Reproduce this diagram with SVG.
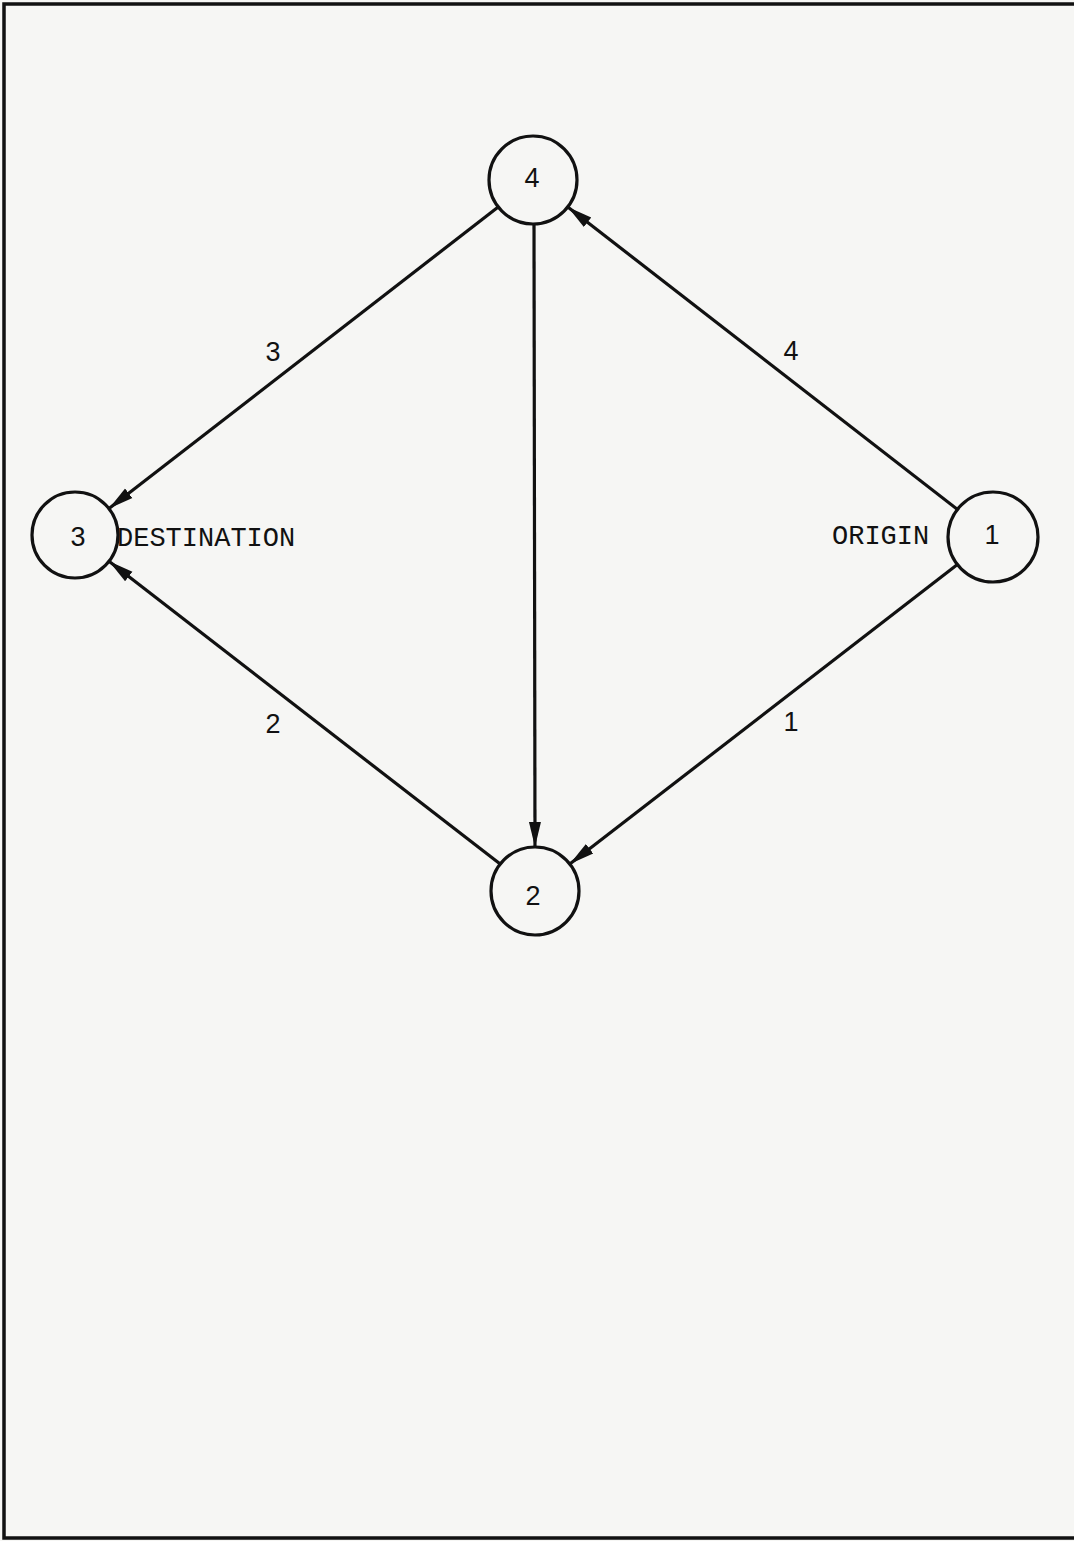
<svg xmlns="http://www.w3.org/2000/svg" width="1074" height="1541" viewBox="0 0 1074 1541">
<style>
.node circle{fill:none;stroke:#111;stroke-width:3.2}
.num{font-family:"Liberation Sans",Arial,sans-serif;font-size:27px;fill:#111;text-anchor:middle}
.tw{font-family:"Liberation Mono","Courier New",monospace;font-size:27px;fill:#111}
#edges line{stroke:#111;stroke-width:3.2;marker-end:url(#arr)}
#border path{fill:none;stroke:#111;stroke-width:3.5}
</style>
<defs>
<marker id="arr" markerUnits="userSpaceOnUse" markerWidth="28" markerHeight="16" viewBox="0 -8 28 16" refX="25" refY="0" orient="auto">
<path d="M0,-6 L25,0 L0,6 z" fill="#111"/>
</marker>
</defs>
<rect width="1074" height="1541" fill="#f6f6f4"/>
<g id="border">
<path d="M1074,4 L4,4 L4,1538 L1074,1538"/>
</g>
<g id="edges">
<line x1="498.2" y1="207" x2="109" y2="508.6"/>
<line x1="957.5" y1="509.4" x2="567.8" y2="207"/>
<line x1="534" y1="224" x2="535" y2="847"/>
<line x1="957.4" y1="564.5" x2="569.8" y2="864.1"/>
<line x1="500.2" y1="864.1" x2="109" y2="561.3"/>
<text class="num" x="273" y="361">3</text>
<text class="num" x="791" y="360">4</text>
<text class="num" x="273" y="733">2</text>
<text class="num" x="791" y="731">1</text>
</g>
<g id="node4" class="node">
<circle cx="533" cy="180" r="44"/>
<text class="num" x="532" y="187">4</text>
</g>
<g id="node3" class="node">
<circle cx="75" cy="535" r="43"/>
<text class="num" x="78" y="546">3</text>
<text class="tw" x="117" y="546">DESTINATION</text>
</g>
<g id="node1" class="node">
<circle cx="993" cy="537" r="45"/>
<text class="num" x="992" y="544">1</text>
<text class="tw" x="832" y="544">ORIGIN</text>
</g>
<g id="node2" class="node">
<circle cx="535" cy="891" r="44"/>
<text class="num" x="533" y="905">2</text>
</g>
</svg>
